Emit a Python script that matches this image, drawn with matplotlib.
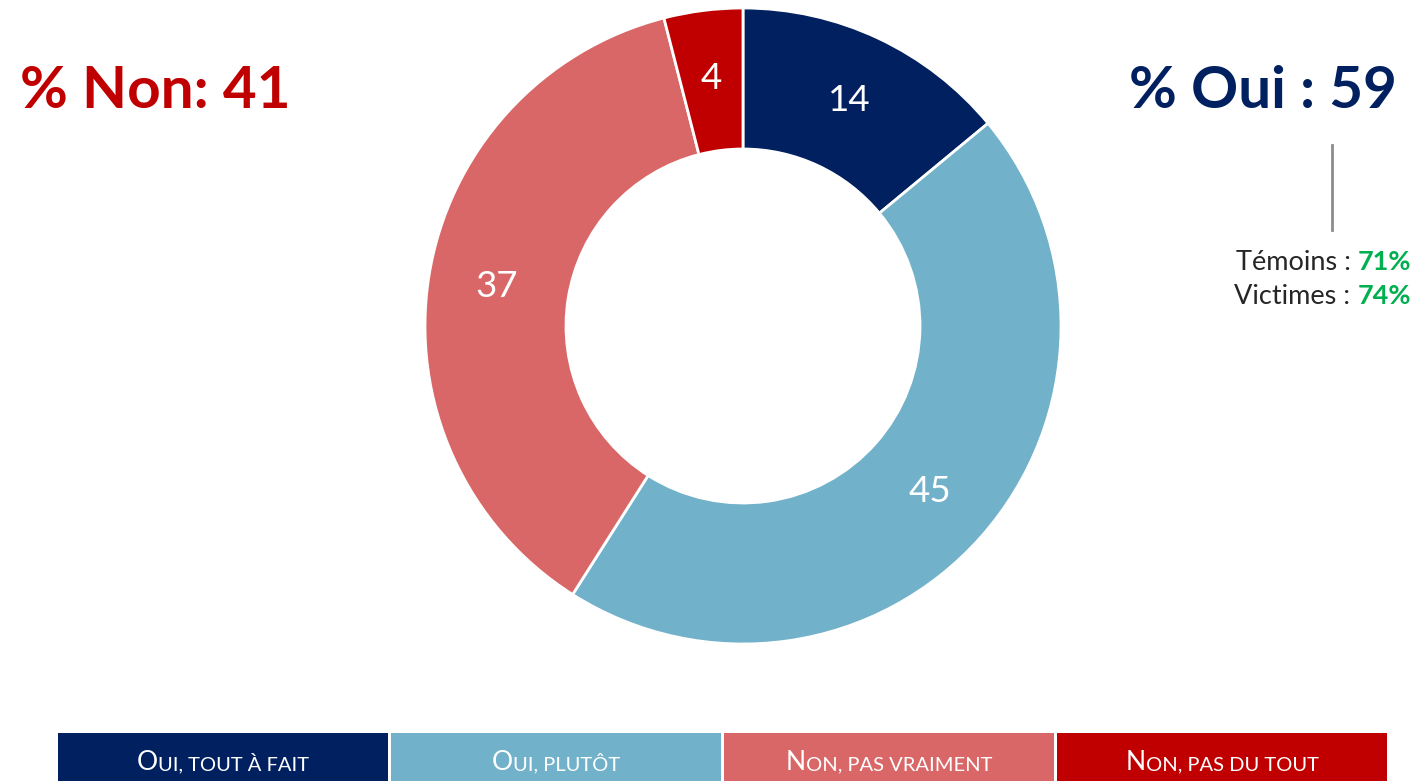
import matplotlib
matplotlib.use("Agg")
import matplotlib.pyplot as plt
from matplotlib.patches import Rectangle
from matplotlib.offsetbox import TextArea, HPacker, AnnotationBbox

# données
categories = ["Oui, tout à fait", "Oui, plutôt", "Non, pas vraiment", "Non, pas du tout"]
valeurs = [14, 45, 37, 4]
couleurs = ["#002060", "#71B1C9", "#D96767", "#C00000"]
total_oui = 59
total_non = 41
sous_groupes = ["Témoins", "Victimes"]
sous_valeurs = [71, 74]

W, H = 1417, 781
plt.rcParams["font.family"] = ["Lato", "DejaVu Sans"]

fig = plt.figure(figsize=(W / 100, H / 100), dpi=100)
ax = fig.add_axes([0, 0, 1, 1])

# donut
wedges, _, autotexts = ax.pie(
    valeurs, colors=couleurs, startangle=90, counterclock=False,
    center=(743, H - 326), radius=318,
    autopct=lambda p: f"{p:.0f}", pctdistance=0.785,
    wedgeprops=dict(width=318 - 177, edgecolor="white", linewidth=2),
    textprops=dict(color="white", fontsize=26.5),
)
ax.set_xlim(0, W)
ax.set_ylim(0, H)
ax.set_aspect("auto")
ax.axis("off")

# totaux
ax.text(20, H - 92, f"% Non: {total_non}", color="#C00000", fontsize=42,
        fontweight="bold", ha="left", va="center")
ax.text(1397, H - 92, f"% Oui : {total_oui}", color="#002060", fontsize=42,
        fontweight="bold", ha="right", va="center")

# trait + sous-groupes
ax.plot([1332, 1332], [H - 145, H - 230], color="#8C8C8C", lw=2)
for i, (nom, v) in enumerate(zip(sous_groupes, sous_valeurs)):
    pack = HPacker(children=[
        TextArea(f"{nom} : ", textprops=dict(color="#262626", fontsize=19.5)),
        TextArea(f"{v}%", textprops=dict(color="#00B050", fontsize=19.5, fontweight="bold")),
    ], align="baseline", pad=0, sep=0)
    ab = AnnotationBbox(pack, (1411, H - 262 - 35 * i), xycoords="data",
                        frameon=False, box_alignment=(1, 0.5), pad=0)
    ax.add_artist(ab)

# légende en petites capitales
x0, larg, gap = 58, 331.5, 1.5
for i, (cat, c) in enumerate(zip(categories, couleurs)):
    x = x0 + i * (larg + gap)
    ax.add_patch(Rectangle((x, 0), larg - gap, H - 733, facecolor=c, edgecolor="none"))
    pack = HPacker(children=[
        TextArea(cat[0].upper(), textprops=dict(color="white", fontsize=19)),
        TextArea(cat[1:].upper(), textprops=dict(color="white", fontsize=14.5)),
    ], align="baseline", pad=0, sep=0)
    ab = AnnotationBbox(pack, (x + (larg - gap) / 2, H - 763), xycoords="data",
                        frameon=False, box_alignment=(0.5, 0.5), pad=0)
    ax.add_artist(ab)

fig.savefig("out.png", dpi=100, facecolor="white")
